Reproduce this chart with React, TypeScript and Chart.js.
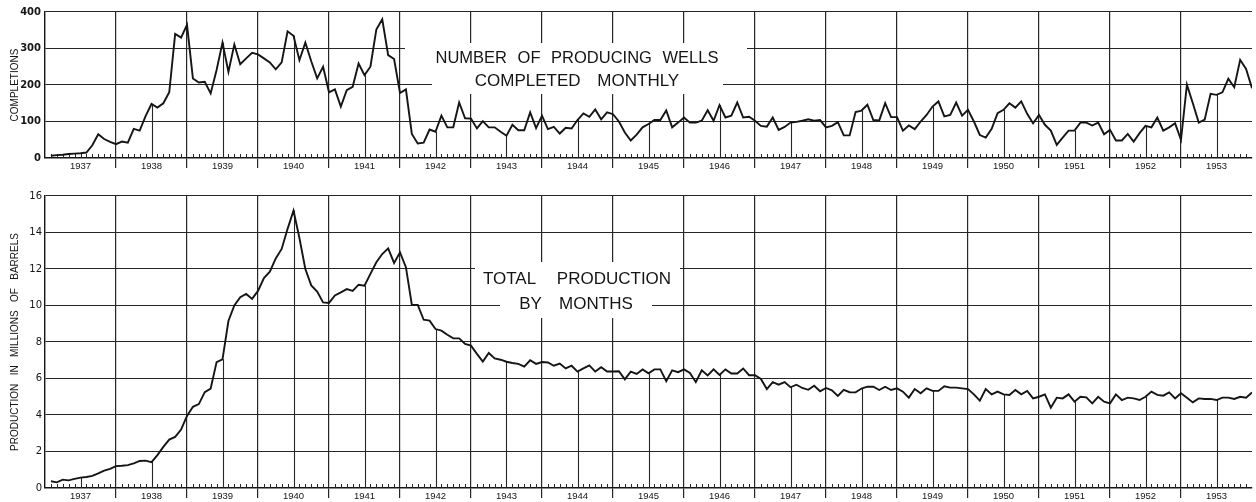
import React, { useEffect, useRef } from 'react';
import { Chart, registerables } from 'chart.js';

Chart.register(...registerables);

// ---------- categories / tick labels ----------
const yearLabels = ['1937', '1938', '1939', '1940', '1941', '1942', '1943', '1944', '1945', '1946', '1947', '1948', '1949', '1950', '1951', '1952', '1953'];
const monthsPerYear = 12;
const completionTicks = [0, 100, 200, 300, 400];
const productionTicks = [0, 2, 4, 6, 8, 10, 12, 14, 16];

// ---------- number of producing wells completed monthly (Jan..Dec) ----------
const wells1937 = [6, 8, 9, 11, 12, 13, 15, 35, 65, 52, 44, 38];
const wells1938 = [45, 42, 80, 75, 115, 148, 138, 150, 180, 340, 330, 365];
const wells1939 = [218, 207, 209, 177, 241, 316, 236, 311, 257, 273, 288, 284];
const wells1940 = [273, 262, 243, 262, 347, 335, 268, 316, 265, 218, 250, 180];
const wells1941 = [188, 141, 186, 195, 259, 227, 250, 352, 380, 282, 271, 178];
const wells1942 = [188, 66, 40, 42, 78, 72, 116, 84, 84, 152, 109, 108];
const wells1943 = [81, 101, 84, 84, 72, 61, 91, 76, 76, 125, 82, 116];
const wells1944 = [79, 85, 67, 83, 81, 104, 122, 113, 133, 106, 125, 120];
const wells1945 = [100, 70, 48, 64, 84, 93, 104, 104, 130, 84, 97, 111];
const wells1946 = [97, 97, 102, 131, 102, 145, 111, 116, 152, 111, 113, 102];
const wells1947 = [88, 86, 111, 77, 85, 97, 99, 102, 106, 102, 104, 84];
const wells1948 = [88, 98, 62, 62, 126, 130, 146, 104, 103, 150, 112, 112];
const wells1949 = [75, 89, 79, 100, 118, 141, 155, 114, 118, 152, 116, 132];
const wells1950 = [100, 63, 56, 80, 123, 132, 150, 138, 155, 121, 95, 118];
const wells1951 = [91, 75, 36, 56, 75, 75, 97, 97, 89, 97, 65, 77];
const wells1952 = [48, 48, 66, 45, 68, 88, 84, 111, 75, 84, 95, 50];
const wells1953 = [201, 150, 97, 105, 176, 173, 180, 217, 194, 269, 244, 191];

// ---------- total production by months, millions of barrels (Jan..Dec) ----------
const prod1937 = [0.37, 0.31, 0.46, 0.42, 0.5, 0.57, 0.6, 0.66, 0.8, 0.95, 1.05, 1.2];
const prod1938 = [1.22, 1.25, 1.35, 1.48, 1.5, 1.42, 1.8, 2.25, 2.65, 2.8, 3.2, 3.95];
const prod1939 = [4.45, 4.6, 5.25, 5.45, 6.9, 7.05, 9.15, 10.0, 10.45, 10.63, 10.36, 10.8];
const prod1940 = [11.5, 11.85, 12.58, 13.1, 14.2, 15.2, 13.7, 12.0, 11.1, 10.76, 10.17, 10.14];
const prod1941 = [10.55, 10.72, 10.9, 10.8, 11.14, 11.09, 11.73, 12.37, 12.82, 13.13, 12.33, 12.91];
const prod1942 = [12.1, 10.04, 10.03, 9.22, 9.17, 8.71, 8.62, 8.4, 8.2, 8.2, 7.9, 7.8];
const prod1943 = [7.35, 6.93, 7.4, 7.1, 7.03, 6.92, 6.85, 6.8, 6.65, 7.0, 6.8, 6.9];
const prod1944 = [6.88, 6.7, 6.82, 6.55, 6.7, 6.38, 6.55, 6.72, 6.38, 6.62, 6.38, 6.38];
const prod1945 = [6.4, 5.95, 6.38, 6.25, 6.5, 6.28, 6.5, 6.5, 5.85, 6.45, 6.35, 6.5];
const prod1946 = [6.3, 5.8, 6.45, 6.17, 6.5, 6.2, 6.5, 6.27, 6.27, 6.55, 6.18, 6.18];
const prod1947 = [5.97, 5.42, 5.8, 5.66, 5.8, 5.52, 5.66, 5.48, 5.38, 5.6, 5.3, 5.48];
const prod1948 = [5.35, 5.05, 5.38, 5.25, 5.24, 5.45, 5.55, 5.55, 5.37, 5.55, 5.37, 5.46];
const prod1949 = [5.28, 4.95, 5.42, 5.19, 5.46, 5.32, 5.32, 5.57, 5.5, 5.5, 5.46, 5.42];
const prod1950 = [5.13, 4.79, 5.42, 5.13, 5.28, 5.13, 5.1, 5.37, 5.13, 5.32, 4.91, 5.0];
const prod1951 = [5.13, 4.4, 4.95, 4.91, 5.13, 4.73, 5.0, 4.97, 4.64, 5.0, 4.73, 4.64];
const prod1952 = [5.13, 4.82, 4.95, 4.91, 4.82, 5.0, 5.28, 5.1, 5.06, 5.24, 4.91, 5.19];
const prod1953 = [4.95, 4.69, 4.91, 4.88, 4.88, 4.82, 4.95, 4.95, 4.88, 5.0, 4.95, 5.24];

const completions = [
  ...wells1937, ...wells1938, ...wells1939, ...wells1940, ...wells1941, ...wells1942,
  ...wells1943, ...wells1944, ...wells1945, ...wells1946, ...wells1947, ...wells1948,
  ...wells1949, ...wells1950, ...wells1951, ...wells1952, ...wells1953,
];
const production = [
  ...prod1937, ...prod1938, ...prod1939, ...prod1940, ...prod1941, ...prod1942,
  ...prod1943, ...prod1944, ...prod1945, ...prod1946, ...prod1947, ...prod1948,
  ...prod1949, ...prod1950, ...prod1951, ...prod1952, ...prod1953,
];

const totalMonths = yearLabels.length * monthsPerYear;
const xTickValues: number[] = [];
for (let v = 0; v <= totalMonths; v += monthsPerYear / 2) xTickValues.push(v);

// month-end positions: month i is plotted at i + 1
const toPoints = (arr: number[]) => arr.map((v, i) => ({ x: i + 1, y: v }));

const INK = '#151515';
const GRID = '#262626';
const TITLE_FONT = '"Liberation Sans", Arial, sans-serif';

const isYearLine = (v: any) => typeof v === 'number' && v % monthsPerYear === 0 && v > 0 && v < totalMonths;

const makeXScale = (height: number) => ({
  type: 'linear',
  min: 0,
  max: totalMonths,
  afterBuildTicks: (s: any) => {
    s.ticks = xTickValues.map((v) => ({ value: v }));
  },
  afterFit: (s: any) => {
    s.height = height;
  },
  grid: {
    color: (c: any) => (c.tick && isYearLine(c.tick.value) ? GRID : 'rgba(0,0,0,0)'),
    tickColor: (c: any) => (c.tick && isYearLine(c.tick.value) ? GRID : 'rgba(0,0,0,0)'),
    lineWidth: 1.2,
    drawTicks: true,
    tickLength: 10,
  },
  border: { display: true, color: INK, width: 1.4 },
  ticks: {
    autoSkip: false,
    maxRotation: 0,
    minRotation: 0,
    padding: -7,
    color: INK,
    font: { family: TITLE_FONT, size: 9.5 },
    callback: (v: any) => (v % monthsPerYear === monthsPerYear / 2 ? yearLabels[(v - monthsPerYear / 2) / monthsPerYear] : ''),
  },
});

type Box = { x: number; y: number; w: number; h: number };
type Line = { text: string; x: number; y: number; size: number; gap: number };

const makeOverlay = (boxes: Box[], lines: Line[]) => ({
  id: 'overlay',
  beforeDatasetsDraw(chart: any) {
    const { ctx, chartArea, scales } = chart;
    const xs = scales.x;
    const bottom = chartArea.bottom;
    ctx.save();
    // monthly minor ticks
    ctx.strokeStyle = GRID;
    ctx.lineWidth = 1;
    ctx.beginPath();
    for (let m = 1; m < totalMonths; m++) {
      if (m % monthsPerYear === 0) continue;
      const px = Math.round(xs.getPixelForValue(m)) + 0.5;
      ctx.moveTo(px, bottom);
      ctx.lineTo(px, bottom - 4);
    }
    ctx.stroke();
    // mid-year drop lines to the curve
    const meta = chart.getDatasetMeta(0);
    ctx.beginPath();
    ctx.lineWidth = 1.1;
    for (let k = 0; k < yearLabels.length; k++) {
      const el = meta.data[k * monthsPerYear + monthsPerYear / 2 - 1];
      if (!el) continue;
      const px = Math.round(el.x) + 0.5;
      ctx.moveTo(px, bottom);
      ctx.lineTo(px, el.y);
    }
    ctx.stroke();
    // title boxes
    ctx.fillStyle = '#ffffff';
    boxes.forEach((b) => ctx.fillRect(b.x, b.y, b.w, b.h));
    ctx.fillStyle = INK;
    ctx.textAlign = 'center';
    ctx.textBaseline = 'middle';
    lines.forEach((l) => {
      ctx.font = `${l.size}px ${TITLE_FONT}`;
      try {
        (ctx as any).wordSpacing = `${l.gap}px`;
      } catch (e) {}
      ctx.fillText(l.text, l.x, l.y);
    });
    try {
      (ctx as any).wordSpacing = '0px';
    } catch (e) {}
    ctx.restore();
  },
});

const yCommon = (title: string, bold: boolean, padding: number) => ({
  type: 'linear',
  afterFit: (s: any) => {
    s.width = 45;
  },
  grid: { color: GRID, lineWidth: 1.1, drawTicks: false },
  border: { display: true, color: INK, width: 1.4 },
  ticks: {
    padding,
    color: INK,
    font: { family: '"DejaVu Sans", sans-serif', size: 10, weight: bold ? 'bold' : 'normal' },
  },
  title: {
    display: true,
    text: title,
    color: INK,
    font: { family: TITLE_FONT, size: 10 },
    padding: { top: 9, bottom: 0 },
  },
});

export default function App() {
  const topRef = useRef<HTMLCanvasElement | null>(null);
  const botRef = useRef<HTMLCanvasElement | null>(null);

  useEffect(() => {
    if (!topRef.current || !botRef.current) return;
    const top = new Chart(topRef.current, {
      type: 'line',
      data: {
        datasets: [
          {
            label: 'Completions',
            data: toPoints(completions),
            borderColor: INK,
            borderWidth: 1.9,
            pointRadius: 0,
            tension: 0,
            fill: false,
          },
        ],
      },
      options: {
        responsive: false,
        animation: false,
        devicePixelRatio: 1,
        layout: { padding: { top: 12, right: 4, left: 0, bottom: 0 } },
        plugins: { legend: { display: false }, tooltip: { enabled: false } },
        scales: {
          x: makeXScale(20) as any,
          y: {
            ...(yCommon('COMPLETIONS', true, 4) as any),
            min: 0,
            max: 400,
            afterBuildTicks: (s: any) => {
              s.ticks = completionTicks.map((v) => ({ value: v }));
            },
          },
        },
      },
      plugins: [
        makeOverlay(
          [
            { x: 405, y: 43, w: 342, h: 24 },
            { x: 432, y: 67, w: 291, h: 27 },
          ],
          [
            { text: 'NUMBER OF PRODUCING WELLS', x: 577, y: 58, size: 16.5, gap: 6 },
            { text: 'COMPLETED MONTHLY', x: 577, y: 81.5, size: 17, gap: 12 },
          ]
        ),
      ],
    } as any);

    const bot = new Chart(botRef.current, {
      type: 'line',
      data: {
        datasets: [
          {
            label: 'Production',
            data: toPoints(production),
            borderColor: INK,
            borderWidth: 1.9,
            pointRadius: 0,
            tension: 0,
            fill: false,
          },
        ],
      },
      options: {
        responsive: false,
        animation: false,
        devicePixelRatio: 1,
        layout: { padding: { top: 18, right: 4, left: 0, bottom: 0 } },
        plugins: { legend: { display: false }, tooltip: { enabled: false } },
        scales: {
          x: makeXScale(14) as any,
          y: {
            ...(yCommon('PRODUCTION   IN   MILLIONS   OF   BARRELS', false, 3) as any),
            min: 0,
            max: 16,
            afterBuildTicks: (s: any) => {
              s.ticks = productionTicks.map((v) => ({ value: v }));
            },
          },
        },
      },
      plugins: [
        makeOverlay(
          [
            { x: 475, y: 84, w: 205, h: 30 },
            { x: 500, y: 114, w: 152, h: 26 },
          ],
          [
            { text: 'TOTAL PRODUCTION', x: 577, y: 101, size: 17, gap: 16 },
            { text: 'BY MONTHS', x: 576, y: 126.5, size: 17, gap: 12.5 },
          ]
        ),
      ],
    } as any);

    return () => {
      top.destroy();
      bot.destroy();
    };
  }, []);

  return (
    <div style={{ position: 'absolute', left: 0, top: 0, width: 1256, height: 502, background: '#ffffff' }}>
      <canvas ref={topRef} width={1256} height={178} style={{ position: 'absolute', left: 0, top: 0, width: 1256, height: 178 }} />
      <canvas ref={botRef} width={1256} height={324} style={{ position: 'absolute', left: 0, top: 178, width: 1256, height: 324 }} />
    </div>
  );
}
